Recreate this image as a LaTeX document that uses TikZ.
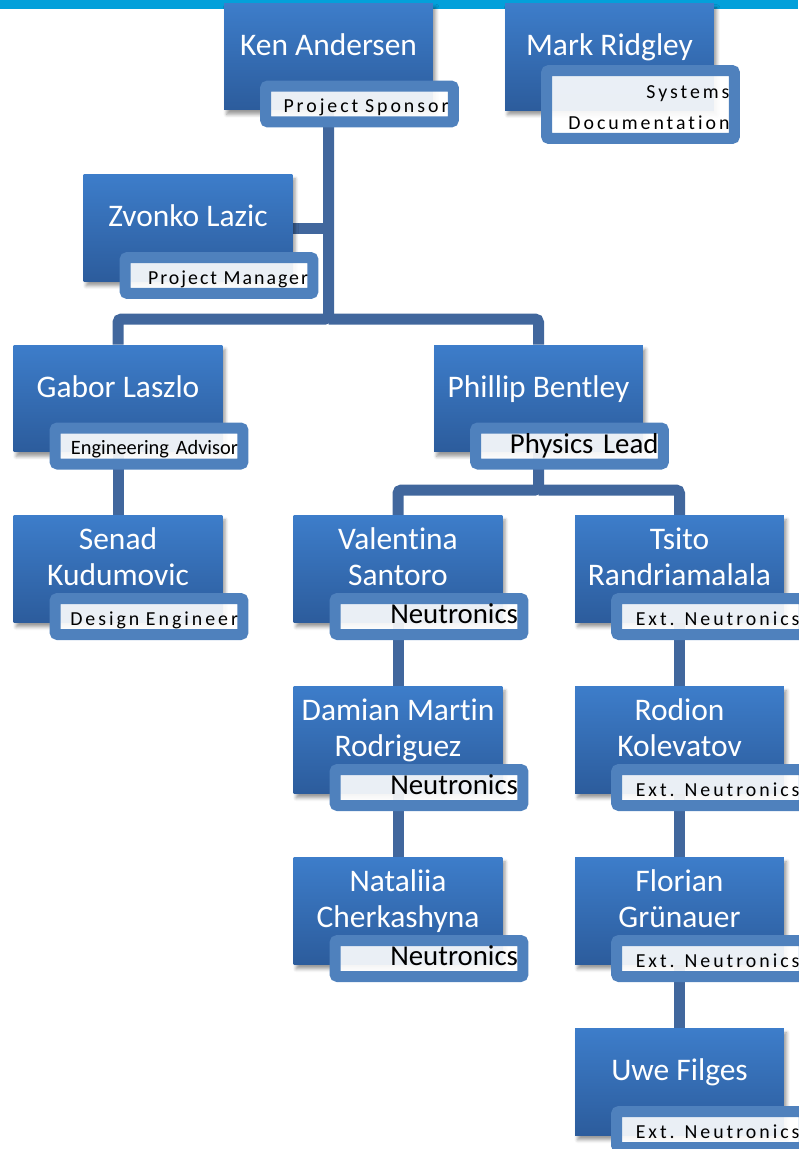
\documentclass[tikz,border=0pt]{standalone}
\usepackage{fontspec}
\setmainfont[Ligatures=NoCommon]{Carlito}
\newfontfamily\trackfont[LetterSpace=15, WordSpace=1.9, Ligatures=NoCommon]{Carlito}
\newfontfamily\pmfont[LetterSpace=10, WordSpace=1.5, Ligatures=NoCommon]{Carlito}
\usetikzlibrary{calc, shadows.blur, backgrounds}
\definecolor{bandcyan}{HTML}{03A0DA}
\definecolor{cardtop}{HTML}{3D7DCA}
\definecolor{cardbot}{HTML}{2C5C9C}
\definecolor{tagblue}{HTML}{4F81BD}
\definecolor{linkblue}{HTML}{41679D}
\begin{document}
\begin{tikzpicture}[x = 0.02cm, y = -0.02cm,
	card/.style = {rectangle, inner sep = 0pt, minimum width = 4.18cm, minimum height = 2.14cm, top color = cardtop, bottom color = cardbot, blur shadow = {shadow xshift = 1.5pt, shadow yshift = -2.5pt}},
	who/.style = {text = white, align = center, text depth = 0pt, font = \fontsize{17.9}{20.5}\selectfont},
	tag/.style = {rectangle, rounded corners = 1.5pt, draw = tagblue, line width = 0.22cm, fill = white, fill opacity = 0.9, text opacity = 1, minimum width = 3.76cm, minimum height = 0.72cm, inner xsep = 0.1cm, inner ysep = 0pt, text width = 3.56cm, align = right, text height = 10pt, text depth = 0pt, font = \trackfont\fontsize{11.3}{17.6}\selectfont},
	bigtag/.style = {tag, text height = 8.5pt, font = \fontsize{16.4}{18}\selectfont},
	link/.style = {draw = linkblue, line width = 0.22cm, rounded corners = 2pt}]
	\useasboundingbox (0,0) rectangle (798,1149);
	\node[card] (ken) at (328.5,56.5) {};
	\node[who] (kenN) at ($(ken)+(0,-12)$) {Ken Andersen};
	\node[tag] (kenT) at ($(ken)+(31,47.5)$) {Project Sponsor};
	\node[card] (mark) at (609.5,57) {};
	\node[who] (markN) at ($(mark)+(0,-12)$) {Mark Ridgley};
	\node[tag, minimum height = 1.36cm, text height = 10pt, text depth = 16.8pt] (markT) at ($(mark)+(31,47.5)$) {Systems\\Documentation};
	\node[card] (zvonko) at (188,228) {};
	\node[who] (zvonkoN) at ($(zvonko)+(0,-12)$) {Zvonko Lazic};
	\node[tag, font = \pmfont\fontsize{11.3}{14}\selectfont] (zvonkoT) at ($(zvonko)+(31,47.5)$) {Project Manager};
	\node[card] (gabor) at (118,398.5) {};
	\node[who] (gaborN) at ($(gabor)+(0,-12)$) {Gabor Laszlo};
	\node[tag, font = \fontsize{11.6}{14}\selectfont] (gaborT) at ($(gabor)+(31,47.5)$) {Engineering Advisor};
	\node[card] (senad) at (118,569) {};
	\node[who] (senadN) at ($(senad)+(0,-12)$) {Senad\\Kudumovic};
	\node[tag] (senadT) at ($(senad)+(31,47.5)$) {Design Engineer};
	\node[card] (phil) at (538.5,398.5) {};
	\node[who] (philN) at ($(phil)+(0,-12)$) {Phillip Bentley};
	\node[bigtag] (philT) at ($(phil)+(31,47.5)$) {Physics Lead};
	\node[card] (valentina) at (398,569) {};
	\node[who] (valentinaN) at ($(valentina)+(0,-12)$) {Valentina\\Santoro};
	\node[bigtag] (valentinaT) at ($(valentina)+(31,47.5)$) {Neutronics};
	\node[card] (damian) at (398,740) {};
	\node[who] (damianN) at ($(damian)+(0,-12)$) {Damian Martin\\Rodriguez};
	\node[bigtag] (damianT) at ($(damian)+(31,47.5)$) {Neutronics};
	\node[card] (nataliia) at (398,911) {};
	\node[who] (nataliiaN) at ($(nataliia)+(0,-12)$) {Nataliia\\Cherkashyna};
	\node[bigtag] (nataliiaT) at ($(nataliia)+(31,47.5)$) {Neutronics};
	\node[card] (tsito) at (679.5,569) {};
	\node[who] (tsitoN) at ($(tsito)+(0,-12)$) {Tsito\\Randriamalala};
	\node[tag] (tsitoT) at ($(tsito)+(31,47.5)$) {Ext. Neutronics};
	\node[card] (rodion) at (679.5,740) {};
	\node[who] (rodionN) at ($(rodion)+(0,-12)$) {Rodion\\Kolevatov};
	\node[tag] (rodionT) at ($(rodion)+(31,47.5)$) {Ext. Neutronics};
	\node[card] (florian) at (679.5,911) {};
	\node[who] (florianN) at ($(florian)+(0,-12)$) {Florian\\Grünauer};
	\node[tag] (florianT) at ($(florian)+(31,47.5)$) {Ext. Neutronics};
	\node[card] (uwe) at (679.5,1082) {};
	\node[who] (uweN) at ($(uwe)+(0,-12)$) {Uwe Filges};
	\node[tag] (uweT) at ($(uwe)+(31,47.5)$) {Ext. Neutronics};
	\begin{scope}[on background layer]
		\fill[bandcyan] (0,0) rectangle (798,9);
		\draw[link] (ken) -- (ken |- 0,319) -| (gabor);
		\draw[link] (ken |- 0,319) -| (phil);
		\draw[link] (zvonko) -- (ken |- zvonko);
		\draw[link] (gabor) -- (senad);
		\draw[link] (phil) -- (phil |- 0,490) -| (valentina);
		\draw[link] (phil |- 0,490) -| (tsito);
		\draw[link] (valentina) -- (damian) -- (nataliia);
		\draw[link] (tsito) -- (rodion) -- (florian) -- (uwe);
	\end{scope}
\end{tikzpicture}
\end{document}
